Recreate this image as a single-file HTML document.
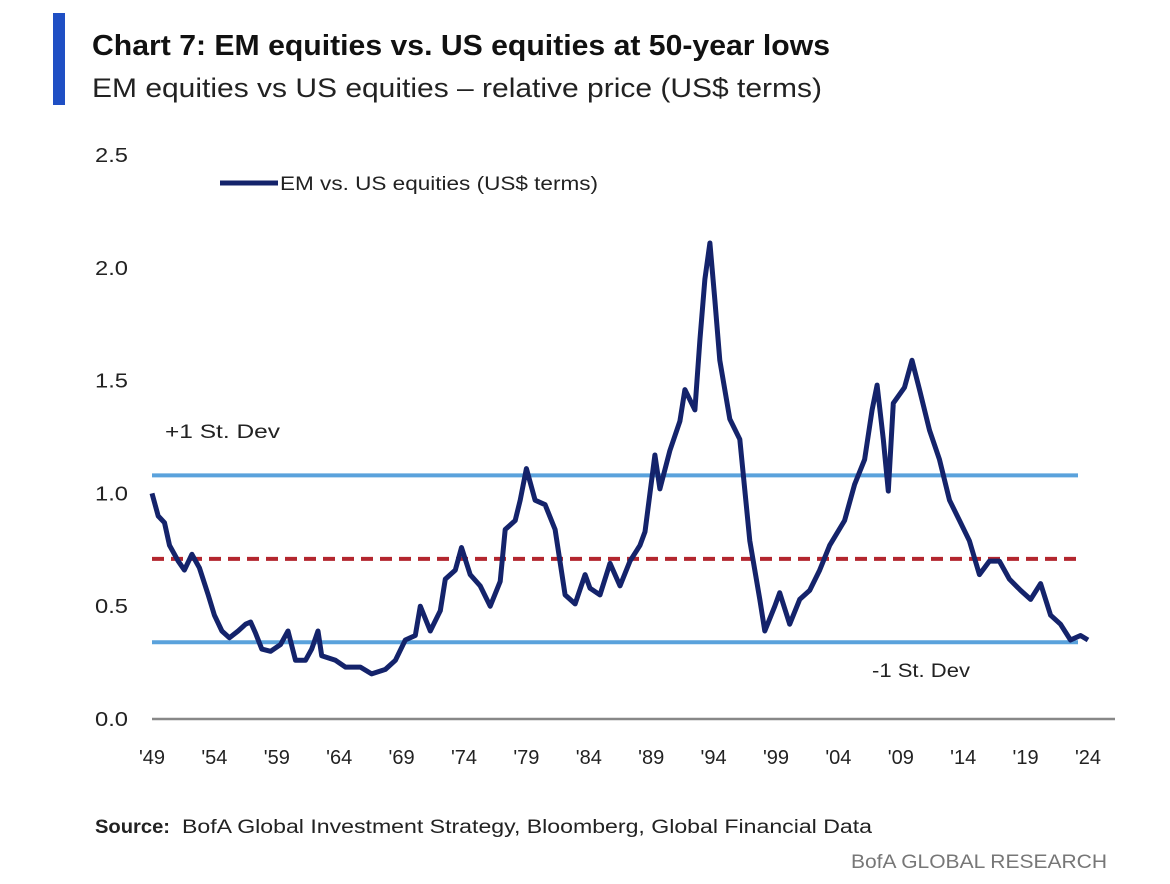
<!DOCTYPE html>
<html><head><meta charset="utf-8"><style>
body{margin:0;background:#fff;}
svg{display:block;font-family:"Liberation Sans",sans-serif;}
</style></head><body>
<svg id="chart" width="1170" height="884">
<rect x="53" y="13" width="12" height="92" fill="#1f4fc4"/>
<text x="92" y="55" font-size="29" font-weight="bold" fill="#111" textLength="738" lengthAdjust="spacingAndGlyphs">Chart 7: EM equities vs. US equities at 50-year lows</text>
<text x="92" y="97" font-size="27" fill="#222" textLength="730" lengthAdjust="spacingAndGlyphs">EM equities vs US equities – relative price (US$ terms)</text>
<g id="plot"></g>
<line x1="220" y1="183" x2="278" y2="183" stroke="#14236b" stroke-width="5"/>
<text x="280" y="190" font-size="19" fill="#222" textLength="318" lengthAdjust="spacingAndGlyphs">EM vs. US equities (US$ terms)</text>
<text x="165" y="438" font-size="19" fill="#222" textLength="115" lengthAdjust="spacingAndGlyphs">+1 St. Dev</text>
<text x="872" y="677" font-size="19" fill="#222" textLength="98" lengthAdjust="spacingAndGlyphs">-1 St. Dev</text>
<text x="95" y="833" font-size="19" fill="#222"><tspan font-weight="bold" textLength="75" lengthAdjust="spacingAndGlyphs">Source:</tspan><tspan x="182" textLength="690" lengthAdjust="spacingAndGlyphs">BofA Global Investment Strategy, Bloomberg, Global Financial Data</tspan></text>
<text x="1107" y="868" font-size="19" fill="#777" text-anchor="end" textLength="256" lengthAdjust="spacingAndGlyphs">BofA GLOBAL RESEARCH</text>
</svg>
<script>
const years=[1949.0,1949.5,1950.0,1950.4,1951.1,1951.6,1952.2,1952.8,1953.5,1954.0,1954.6,1955.2,1955.9,1956.5,1956.9,1957.3,1957.8,1958.5,1959.3,1959.9,1960.5,1961.3,1961.8,1962.3,1962.6,1963.7,1964.5,1965.7,1966.6,1967.7,1968.5,1969.3,1970.1,1970.5,1971.3,1972.1,1972.5,1973.3,1973.8,1974.5,1975.3,1976.1,1976.9,1977.3,1978.1,1978.5,1979.0,1979.7,1980.5,1981.3,1982.1,1982.9,1983.7,1984.1,1984.9,1985.7,1986.5,1987.3,1988.1,1988.5,1989.3,1989.7,1990.5,1991.3,1991.7,1992.5,1992.9,1993.3,1993.7,1994.1,1994.5,1995.3,1996.1,1996.9,1997.7,1998.1,1998.9,1999.3,2000.1,2000.9,2001.7,2002.5,2003.3,2004.5,2005.3,2006.1,2006.7,2007.1,2007.6,2008.0,2008.4,2009.3,2009.9,2010.5,2011.3,2012.1,2012.9,2013.7,2014.5,2015.3,2016.1,2016.9,2017.7,2018.6,2019.4,2020.2,2021.0,2021.8,2022.6,2023.4,2024.0];
const values=[1.00,0.90,0.87,0.77,0.70,0.66,0.73,0.67,0.55,0.46,0.39,0.36,0.39,0.42,0.43,0.38,0.31,0.30,0.33,0.39,0.26,0.26,0.31,0.39,0.28,0.26,0.23,0.23,0.20,0.22,0.26,0.35,0.37,0.50,0.39,0.48,0.62,0.66,0.76,0.64,0.59,0.50,0.61,0.84,0.88,0.97,1.11,0.97,0.95,0.84,0.55,0.51,0.64,0.58,0.55,0.69,0.59,0.70,0.77,0.83,1.17,1.02,1.19,1.32,1.46,1.37,1.68,1.95,2.11,1.86,1.59,1.33,1.24,0.79,0.53,0.39,0.50,0.56,0.42,0.53,0.57,0.66,0.77,0.88,1.04,1.15,1.37,1.48,1.24,1.01,1.40,1.47,1.59,1.46,1.28,1.15,0.97,0.88,0.79,0.64,0.70,0.70,0.62,0.57,0.53,0.60,0.46,0.42,0.35,0.37,0.35];
const yTicks=[0.0,0.5,1.0,1.5,2.0,2.5];
const xTickYears=[1949,1954,1959,1964,1969,1974,1979,1984,1989,1994,1999,2004,2009,2014,2019,2024];
const xTickLabels=["'49","'54","'59","'64","'69","'74","'79","'84","'89","'94","'99","'04","'09","'14","'19","'24"];
const plusSD=1.08, meanVal=0.71, minusSD=0.34;
const NS="http://www.w3.org/2000/svg";
const X=y=>152+(y-1949)*(1088-152)/75;
const Y=v=>719-v*225.6;
const g=document.getElementById('plot');
function mk(t,a){const e=document.createElementNS(NS,t);for(const k in a)e.setAttribute(k,a[k]);g.appendChild(e);return e;}
yTicks.forEach(v=>{const t=mk('text',{x:95,y:Y(v)+7,'font-size':20,fill:'#222',textLength:33,lengthAdjust:'spacingAndGlyphs'});t.textContent=v.toFixed(1);

});
xTickYears.forEach((yr,i)=>{const t=mk('text',{x:X(yr),y:764,'font-size':20,fill:'#222','text-anchor':'middle'});t.textContent=xTickLabels[i];

});
const ax=mk('line',{x1:152,x2:1115,y1:Y(0),y2:Y(0),stroke:'#888','stroke-width':2.5});


const l1=mk('line',{x1:152,x2:1078,y1:Y(plusSD),y2:Y(plusSD),stroke:'#5aa2dc','stroke-width':4});


const l2=mk('line',{x1:152,x2:1078,y1:Y(minusSD),y2:Y(minusSD),stroke:'#5aa2dc','stroke-width':4});


const l3=mk('line',{x1:152,x2:1078,y1:Y(meanVal),y2:Y(meanVal),stroke:'#b3262e','stroke-width':4,'stroke-dasharray':'12 7'});


const d=years.map((yr,i)=>(i?'L':'M')+X(yr).toFixed(1)+' '+Y(values[i]).toFixed(1)).join(' ');
const p=mk('path',{d:d,fill:'none',stroke:'#14236b','stroke-width':5,'stroke-linejoin':'round'});


</script>
</body></html>
